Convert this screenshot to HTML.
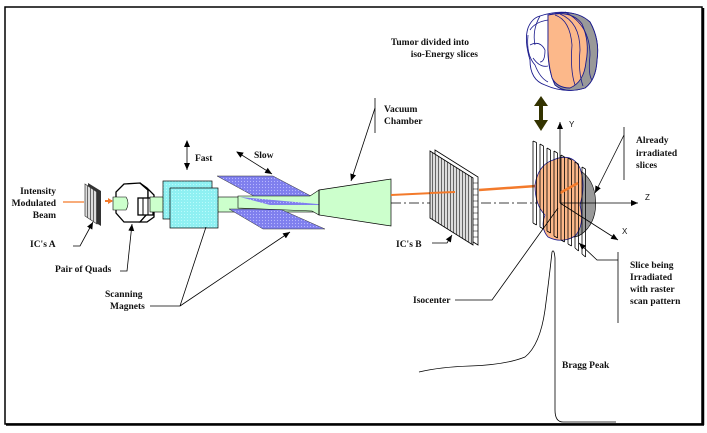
<!DOCTYPE html>
<html><head><meta charset="utf-8"><style>
html,body{margin:0;padding:0;background:#fff}
svg{display:block}
text{font-family:"Liberation Serif",serif;font-weight:bold;font-size:9.5px;fill:#111}
</style></head><body>
<svg width="707" height="433" viewBox="0 0 707 433" xmlns="http://www.w3.org/2000/svg">
<defs>
<pattern id="dots" width="3" height="3" patternUnits="userSpaceOnUse"><rect width="3" height="3" fill="#7f7fee"/><circle cx="1.5" cy="1.5" r="0.6" fill="#b9b9ff"/></pattern>
<pattern id="cy" width="3" height="3" patternUnits="userSpaceOnUse"><rect width="3" height="3" fill="#8ff0f2"/><circle cx="1.5" cy="1.5" r="0.5" fill="#c8ffff"/></pattern>
<pattern id="vl" width="3" height="10" patternUnits="userSpaceOnUse"><rect width="3" height="10" fill="#ddd"/><rect width="1" height="10" fill="#666"/></pattern>
<marker id="ar" markerWidth="8" markerHeight="8" refX="7" refY="4" orient="auto" markerUnits="userSpaceOnUse"><path d="M0,1 L7,4 L0,7 z" fill="#000"/></marker>
<marker id="as" markerWidth="8" markerHeight="8" refX="1" refY="4" orient="auto" markerUnits="userSpaceOnUse"><path d="M7,1 L0,4 L7,7 z" fill="#000"/></marker>
</defs>
<rect x="5" y="7" width="697" height="417" fill="none" stroke="#000" stroke-width="1.5"/>
<line x1="703" y1="8" x2="703" y2="425" stroke="#000" stroke-width="2.5"/>
<line x1="6" y1="424.5" x2="704" y2="424.5" stroke="#000" stroke-width="2.5"/>

<text x="56" y="194" text-anchor="end">Intensity</text>
<text x="56" y="206" text-anchor="end">Modulated</text>
<text x="56" y="218" text-anchor="end">Beam</text>
<line x1="63" y1="202" x2="84" y2="202" stroke="#f37a2b" stroke-width="1.2"/>
<polygon points="88,183 101,191 101,226 88,218" fill="#333"/>
<polygon points="85,184 97,192 97,224 85,216" fill="url(#vl)" stroke="#333" stroke-width="0.7"/>
<line x1="105" y1="201" x2="112" y2="201" stroke="#f37a2b" stroke-width="2"/>
<path d="M108,198 L113,201 L108,204z" fill="#f37a2b"/>
<polygon points="124,184 140,183 148,190 148,213 140,222 124,222 116,213 116,192" fill="#fff" stroke="#000" stroke-width="1.3"/>
<polygon points="140,183 147,188 154,195 154,217 147,222 140,222 148,213 148,190" fill="#fff" stroke="#000" stroke-width="1.3"/>
<rect x="138" y="198" width="15" height="17" fill="#fff" stroke="#000" stroke-width="1.3"/>
<line x1="143" y1="198" x2="143" y2="215" stroke="#000"/><line x1="148" y1="198" x2="148" y2="215" stroke="#000"/>
<path d="M113,197 H126 Q130,203 126,210 H113z" fill="#ccffcc" stroke="#000" stroke-width="0.6"/>
<rect x="150" y="197" width="170" height="15" fill="#ccffcc" stroke="#000" stroke-width="0.6"/>
<rect x="163" y="181" width="49" height="38" fill="url(#cy)" stroke="#000" stroke-width="0.7"/>
<rect x="170" y="188" width="48" height="40" fill="url(#cy)" stroke="#000" stroke-width="0.7"/>
<polygon points="217,176 273,176 328,205 270,205" fill="url(#dots)" stroke="#333" stroke-width="0.5"/>
<polygon points="229,209 280,209 325,229 263,229" fill="url(#dots)" stroke="#333" stroke-width="0.5"/>
<polygon points="238,196 310,196 319,190 319,215 312,211 238,208" fill="#ccffcc" stroke="#000" stroke-width="0.6"/>
<polygon points="240,197 328,205 270,205" fill="url(#dots)"/>
<polygon points="319,190 391,179 391,226 319,215" fill="#ccffcc" stroke="#000" stroke-width="0.7"/>
<line x1="319" y1="190" x2="319" y2="215" stroke="#000"/>
<line x1="391" y1="203" x2="562" y2="203" stroke="#000" stroke-width="0.8" stroke-dasharray="10,3,2,3"/>
<line x1="391" y1="195" x2="455" y2="192" stroke="#f37a2b" stroke-width="2"/>
<polygon points="435,150 478,177 478,245 435,218" fill="#fff" stroke="#000" stroke-width="0.8"/>
<g stroke="#000" stroke-width="0.5">
<line x1="473" y1="183" x2="478" y2="183"/><line x1="473" y1="189" x2="478" y2="189"/><line x1="473" y1="195" x2="478" y2="195"/><line x1="473" y1="201" x2="478" y2="201"/><line x1="473" y1="207" x2="478" y2="207"/><line x1="473" y1="213" x2="478" y2="213"/><line x1="473" y1="219" x2="478" y2="219"/><line x1="473" y1="225" x2="478" y2="225"/><line x1="473" y1="231" x2="478" y2="231"/><line x1="473" y1="237" x2="478" y2="237"/></g>
<polygon points="430,151 473,178 473,245 430,218" fill="url(#vl)" stroke="#000" stroke-width="0.8"/>
<line x1="430" y1="193" x2="455" y2="192" stroke="#f37a2b" stroke-width="2"/>
<line x1="479" y1="190" x2="578" y2="183" stroke="#f37a2b" stroke-width="2.5"/>

<path d="M575,168 Q592,175 595,195 Q598,215 588,228 Q578,240 568,236 Z" fill="#999" stroke="#000" stroke-width="0.6"/>
<path d="M553,160 Q572,152 580,168 Q586,185 580,205 Q585,225 575,236 Q562,244 548,237 Q540,228 545,215 Q535,205 535,185 Q538,165 553,160 Z" fill="#fcb88a" stroke="#1a1a8c" stroke-width="0.8"/>
<g stroke="#000" stroke-width="0.8" fill="none">
<line x1="533" y1="141" x2="533" y2="223"/><line x1="536.5" y1="142.5" x2="536.5" y2="225"/>
<line x1="540" y1="144" x2="540" y2="227"/><line x1="543.5" y1="146" x2="543.5" y2="229"/>
<line x1="547" y1="148" x2="547" y2="231"/><line x1="550.5" y1="150" x2="550.5" y2="233"/>
<line x1="554" y1="151" x2="554" y2="236"/><line x1="557.5" y1="153" x2="557.5" y2="238"/>
<line x1="561" y1="155" x2="561" y2="240"/><line x1="564.5" y1="157" x2="564.5" y2="242"/>
<line x1="568" y1="158" x2="568" y2="244"/><line x1="571.5" y1="160" x2="571.5" y2="246"/>
<line x1="575" y1="162" x2="575" y2="248"/><line x1="578.5" y1="164" x2="578.5" y2="251"/>
<line x1="582" y1="167" x2="582" y2="254"/><line x1="585.5" y1="169" x2="585.5" y2="257"/>
<path d="M533,141 L536.5,142.5 M540,144 L543.5,146 M547,148 L550.5,150 M554,151 L557.5,153 M561,155 L564.5,157 M568,158 L571.5,160 M575,162 L578.5,164 M582,167 L585.5,169"/>
<path d="M533,223 L536.5,225 M540,227 L543.5,229 M547,231 L550.5,233 M554,236 L557.5,238 M561,240 L564.5,242 M568,244 L571.5,246 M575,248 L578.5,251 M582,254 L585.5,257"/>
</g>
<line x1="560" y1="193" x2="578" y2="183" stroke="#f37a2b" stroke-width="2.5"/>
<line x1="560" y1="203" x2="560" y2="122" stroke="#000" stroke-width="0.8" marker-end="url(#ar)"/>
<line x1="560" y1="203" x2="638" y2="203" stroke="#000" stroke-width="0.8" marker-end="url(#ar)"/>
<line x1="560" y1="203" x2="618" y2="240" stroke="#000" stroke-width="0.8" marker-end="url(#ar)"/>
<text x="569" y="127" style="font-weight:normal;font-family:'Liberation Sans',sans-serif;font-size:8px">Y</text>
<text x="645" y="200" style="font-weight:normal;font-family:'Liberation Sans',sans-serif;font-size:8px">Z</text>
<text x="622" y="234" style="font-weight:normal;font-family:'Liberation Sans',sans-serif;font-size:8px">X</text>

<path d="M540,16 Q570,6 590,22 Q600,40 597,60 Q596,80 585,88 Q565,94 545,85 Q530,80 530,60 Q524,40 528,28 Q532,18 540,16 Z" fill="#fff" stroke="#1a1a8c" stroke-width="0.9"/>
<path d="M548,15 Q575,8 590,22 Q600,40 597,60 Q596,80 585,88 Q565,94 555,85 Q548,70 548,50 Z" fill="#999" stroke="#1a1a8c" stroke-width="0.9"/>
<path d="M548,15 Q572,10 582,24 Q590,42 586,62 Q584,82 570,88 Q557,88 552,78 Q547,60 548,40 Z" fill="#fcb88a" stroke="#1a1a8c" stroke-width="0.9"/>
<g fill="none" stroke="#1a1a8c" stroke-width="0.8">
<path d="M530,30 Q535,22 548,20 M530,45 Q540,40 545,50 Q545,62 540,62 M533,58 Q540,68 548,66"/>
<path d="M540,16 Q532,30 535,45 M528,35 Q526,55 535,65 Q540,78 548,82"/>
<path d="M555,15 Q570,20 572,45 Q570,70 575,85 M560,14 Q580,22 580,50 Q578,72 583,86 M565,12 Q590,25 590,55 Q588,75 592,80"/>
</g>
<rect x="539" y="104" width="4" height="18" fill="#333300"/>
<path d="M534,106 L541,96 L548,106z M534,120 L541,131 L548,120z" fill="#333300"/>

<line x1="187" y1="141" x2="187" y2="170" stroke="#000" stroke-width="0.8" marker-end="url(#ar)" marker-start="url(#as)"/>
<text x="195" y="161">Fast</text>
<line x1="237" y1="152" x2="272" y2="174" stroke="#000" stroke-width="0.8" marker-end="url(#ar)" marker-start="url(#as)"/>
<text x="254" y="158">Slow</text>
<text x="384" y="112">Vacuum</text>
<text x="384" y="124">Chamber</text>
<line x1="375" y1="98" x2="375" y2="133" stroke="#000" stroke-width="0.8"/>
<line x1="375" y1="108" x2="351" y2="181" stroke="#000" stroke-width="0.8" marker-end="url(#ar)"/>
<text x="430" y="45" text-anchor="middle">Tumor divided into</text>
<text x="478" y="57" text-anchor="end">iso-Energy slices</text>
<text x="636" y="143">Already</text>
<text x="636" y="156">irradiated</text>
<text x="636" y="168">slices</text>
<line x1="624" y1="127" x2="624" y2="180" stroke="#000" stroke-width="0.8"/>
<line x1="624" y1="135" x2="595" y2="193" stroke="#000" stroke-width="0.8" marker-end="url(#ar)"/>
<text x="30" y="247">IC's A</text>
<path d="M73,246 H80 L93,222" fill="none" stroke="#000" stroke-width="0.8" marker-end="url(#ar)"/>
<text x="55" y="272">Pair of Quads</text>
<path d="M120,271 H127 L132,224" fill="none" stroke="#000" stroke-width="0.8" marker-end="url(#ar)"/>
<text x="105" y="297">Scanning</text>
<text x="110" y="309">Magnets</text>
<path d="M150,306 H180 L206,227 M180,306 L290,232" fill="none" stroke="#000" stroke-width="0.8" marker-end="url(#ar)"/>
<text x="396" y="247">IC's B</text>
<path d="M432,243 H447 L452,235" fill="none" stroke="#000" stroke-width="0.8" marker-end="url(#ar)"/>
<text x="413" y="303">Isocenter</text>
<path d="M455,300 H492 L558,208" fill="none" stroke="#000" stroke-width="0.8"/>
<text x="630" y="268">Slice being</text>
<text x="630" y="280">Irradiated</text>
<text x="630" y="292">with raster</text>
<text x="630" y="304">scan pattern</text>
<line x1="618" y1="252" x2="618" y2="323" stroke="#000" stroke-width="0.8"/>
<path d="M618,260 H597 L579,243" fill="none" stroke="#000" stroke-width="0.8" marker-end="url(#ar)"/>
<text x="562" y="368">Bragg Peak</text>
<path d="M419,372 Q440,367 470,366 Q505,365 525,357 Q540,345 545,310 Q549,280 552,252 Q554,248 555,258 L555,410 Q555,422 563,422 L616,422" fill="none" stroke="#000" stroke-width="0.8"/>
</svg>
</body></html>
